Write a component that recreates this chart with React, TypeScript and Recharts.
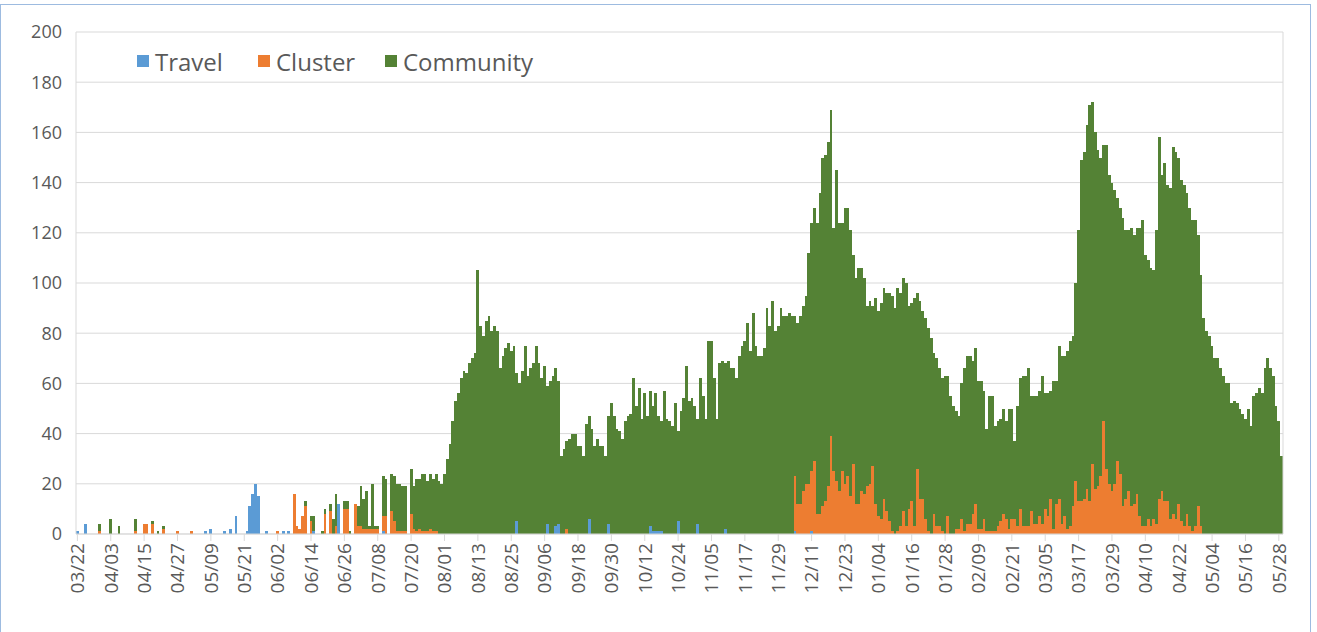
import React from "react";
import { BarChart, Bar, XAxis, YAxis, CartesianGrid } from "recharts";

// daily new cases, 2020-03-22 .. 2021-05-29
const firstDay = Date.UTC(2020, 2, 22);

const travel = [
  1, 0, 0, 4, 0, 0, 0, 0, 0, 0,
  0, 0, 0, 0, 0, 0, 0, 0, 0, 0,
  0, 0, 0, 0, 0, 0, 0, 0, 0, 0,
  0, 0, 0, 0, 0, 0, 0, 0, 0, 0,
  0, 0, 0, 0, 0, 0, 1, 0, 2, 0,
  0, 0, 0, 1, 0, 2, 0, 7, 0, 0,
  0, 1, 11, 16, 20, 15, 0, 0, 1, 0,
  0, 0, 0, 0, 1, 0, 1, 0, 0, 0,
  0, 0, 0, 0, 0, 1, 0, 0, 0, 0,
  0, 0, 0, 0, 12, 0, 0, 0, 0, 0,
  0, 0, 0, 0, 0, 0, 0, 0, 0, 0,
  1, 0, 0, 0, 0, 0, 0, 0, 0, 0,
  0, 0, 0, 0, 0, 0, 0, 0, 0, 0,
  0, 0, 0, 0, 0, 0, 0, 0, 0, 0,
  0, 0, 0, 0, 0, 0, 0, 0, 0, 0,
  0, 0, 0, 0, 0, 0, 0, 0, 5, 0,
  0, 0, 0, 0, 0, 0, 0, 0, 0, 4,
  0, 0, 3, 4, 0, 0, 0, 0, 0, 0,
  0, 0, 0, 0, 6, 0, 0, 0, 0, 0,
  0, 4, 0, 0, 0, 0, 0, 0, 0, 0,
  0, 0, 0, 0, 0, 0, 3, 1, 1, 1,
  1, 0, 0, 0, 0, 0, 5, 0, 0, 0,
  0, 0, 0, 4, 0, 0, 0, 0, 0, 0,
  0, 0, 0, 2, 0, 0, 0, 0, 0, 0,
  0, 0, 0, 0, 0, 0, 0, 0, 0, 0,
  0, 0, 0, 0, 0, 0, 0, 0, 1, 0,
  0, 0, 0, 0, 1, 0, 0, 0, 0, 0,
  0, 0, 0, 0, 0, 0, 0, 0, 0, 0,
  0, 0, 0, 0, 0, 0, 0, 0, 0, 0,
  0, 0, 0, 0, 0, 0, 0, 0, 0, 0,
  0, 0, 0, 0, 0, 0, 0, 0, 0, 0,
  0, 0, 0, 0, 0, 0, 0, 0, 0, 0,
  0, 0, 0, 0, 0, 0, 0, 0, 0, 0,
  0, 0, 0, 0, 0, 0, 0, 0, 0, 0,
  0, 0, 0, 0, 0, 0, 0, 0, 0, 0,
  0, 0, 0, 0, 0, 0, 0, 0, 0, 0,
  0, 0, 0, 0, 0, 0, 0, 0, 0, 0,
  0, 0, 0, 0, 0, 0, 0, 0, 0, 0,
  0, 0, 0, 0, 0, 0, 0, 0, 0, 0,
  0, 0, 0, 0, 0, 0, 0, 0, 0, 0,
  0, 0, 0, 0, 0, 0, 0, 0, 0, 0,
  0, 0, 0, 0, 0, 0, 0, 0, 0, 0,
  0, 0, 0, 0, 0, 0, 0, 0, 0, 0,
  0, 0, 0, 0,
];

const cluster = [
  0, 0, 0, 0, 0, 0, 0, 0, 1, 0,
  0, 0, 0, 0, 0, 0, 0, 0, 0, 0,
  0, 1, 0, 0, 4, 4, 0, 4, 0, 0,
  0, 2, 0, 0, 0, 0, 1, 0, 0, 0,
  0, 1, 0, 0, 0, 0, 0, 0, 0, 0,
  0, 0, 0, 0, 0, 0, 0, 0, 0, 0,
  0, 0, 0, 0, 0, 0, 0, 0, 0, 0,
  0, 0, 1, 0, 0, 0, 0, 0, 16, 3,
  2, 7, 11, 0, 5, 0, 0, 0, 0, 8,
  0, 9, 0, 3, 0, 0, 10, 10, 0, 0,
  12, 3, 3, 2, 2, 2, 2, 2, 2, 0,
  6, 7, 0, 9, 5, 1, 1, 1, 1, 0,
  8, 2, 1, 2, 1, 1, 1, 2, 1, 1,
  0, 0, 0, 0, 0, 0, 0, 0, 0, 0,
  0, 0, 0, 0, 0, 0, 0, 0, 0, 0,
  0, 0, 0, 0, 0, 0, 0, 0, 0, 0,
  0, 0, 0, 0, 0, 0, 0, 0, 0, 0,
  0, 0, 0, 0, 0, 0, 2, 0, 0, 0,
  0, 0, 0, 0, 0, 0, 0, 0, 0, 0,
  0, 0, 0, 0, 0, 0, 0, 0, 0, 0,
  0, 0, 0, 0, 0, 0, 0, 0, 0, 0,
  0, 0, 0, 0, 0, 0, 0, 0, 0, 0,
  0, 0, 0, 0, 0, 0, 0, 0, 0, 0,
  0, 0, 0, 0, 0, 0, 0, 0, 0, 0,
  0, 0, 0, 0, 0, 0, 0, 0, 0, 0,
  0, 0, 0, 0, 0, 0, 0, 0, 22, 12,
  12, 17, 20, 20, 24, 29, 8, 8, 11, 13,
  19, 39, 25, 21, 17, 25, 20, 23, 15, 28,
  12, 12, 17, 16, 19, 20, 27, 12, 7, 6,
  14, 9, 5, 1, 0, 1, 3, 9, 3, 10,
  13, 3, 26, 14, 14, 6, 1, 0, 8, 3,
  3, 1, 0, 7, 0, 0, 2, 2, 6, 1,
  4, 4, 8, 12, 2, 2, 6, 1, 1, 1,
  1, 3, 5, 8, 6, 2, 6, 6, 3, 10,
  3, 3, 3, 9, 4, 4, 7, 4, 10, 7,
  14, 2, 12, 14, 4, 7, 2, 3, 11, 21,
  13, 13, 14, 18, 13, 28, 18, 19, 23, 45,
  26, 20, 17, 20, 29, 24, 11, 14, 17, 11,
  12, 16, 7, 3, 3, 6, 3, 6, 4, 14,
  17, 13, 13, 6, 8, 6, 12, 5, 3, 8,
  3, 1, 3, 11, 3, 0, 0, 0, 0, 0,
  0, 0, 0, 0, 0, 0, 0, 0, 0, 0,
  0, 0, 0, 0, 0, 0, 0, 0, 0, 0,
  0, 0, 0, 0,
];

const community = [
  0, 0, 0, 0, 0, 0, 0, 0, 3, 0,
  0, 0, 6, 0, 0, 3, 0, 0, 0, 0,
  0, 5, 0, 0, 0, 0, 0, 1, 0, 1,
  0, 1, 0, 0, 0, 0, 0, 0, 0, 0,
  0, 0, 0, 0, 0, 0, 0, 0, 0, 0,
  0, 0, 0, 0, 0, 0, 0, 0, 0, 0,
  0, 0, 0, 0, 0, 0, 0, 0, 0, 0,
  0, 0, 0, 0, 0, 0, 0, 0, 0, 0,
  0, 0, 2, 0, 2, 6, 0, 0, 1, 2,
  0, 3, 6, 13, 0, 0, 3, 3, 1, 0,
  0, 8, 16, 12, 15, 1, 18, 1, 1, 0,
  16, 15, 0, 15, 18, 19, 19, 18, 18, 0,
  18, 17, 21, 20, 23, 23, 20, 22, 21, 23,
  21, 20, 24, 30, 36, 45, 53, 56, 62, 65,
  64, 68, 70, 72, 105, 83, 79, 85, 87, 81,
  83, 81, 66, 71, 74, 76, 73, 75, 59, 60,
  65, 75, 63, 66, 68, 75, 68, 62, 67, 55,
  61, 63, 63, 57, 31, 34, 35, 38, 40, 40,
  35, 35, 31, 44, 41, 42, 35, 38, 35, 35,
  31, 43, 52, 47, 42, 41, 38, 45, 47, 48,
  62, 51, 58, 46, 56, 47, 54, 50, 55, 46,
  44, 57, 46, 45, 43, 52, 36, 49, 54, 67,
  53, 54, 51, 42, 62, 55, 46, 77, 77, 62,
  46, 68, 69, 66, 69, 66, 66, 62, 71, 75,
  77, 84, 73, 88, 75, 71, 71, 74, 90, 83,
  93, 81, 83, 90, 87, 87, 88, 87, 64, 72,
  75, 74, 75, 92, 99, 101, 116, 128, 139, 138,
  137, 130, 97, 124, 107, 99, 110, 107, 106, 83,
  90, 94, 89, 86, 72, 73, 64, 82, 82, 86,
  84, 87, 91, 94, 90, 97, 93, 93, 97, 81,
  79, 91, 70, 79, 75, 80, 81, 78, 64, 67,
  63, 61, 63, 56, 55, 51, 47, 45, 54, 65,
  67, 67, 61, 62, 59, 59, 51, 41, 54, 54,
  42, 42, 41, 42, 39, 48, 44, 31, 48, 52,
  60, 60, 63, 46, 51, 51, 50, 59, 46, 49,
  43, 59, 49, 61, 67, 64, 71, 74, 68, 79,
  108, 136, 138, 145, 158, 144, 142, 134, 127, 110,
  129, 123, 123, 117, 105, 106, 115, 107, 104, 111,
  107, 106, 115, 122, 108, 103, 103, 99, 117, 144,
  126, 135, 126, 132, 146, 146, 138, 136, 136, 128,
  127, 124, 122, 108, 100, 86, 81, 79, 75, 70,
  70, 66, 63, 60, 60, 52, 53, 52, 50, 48,
  46, 50, 43, 55, 56, 58, 56, 66, 70, 66,
  63, 51, 45, 31,
];

const yTicks = [0, 20, 40, 60, 80, 100, 120, 140, 160, 180, 200];

const series = [
  { key: "travel", name: "Travel", color: "#5b9bd5" },
  { key: "cluster", name: "Cluster", color: "#ed7d31" },
  { key: "community", name: "Community", color: "#548235" },
];

const pad = (n: number) => (n < 10 ? "0" + n : "" + n);
const dates = community.map((_, i) => {
  const d = new Date(firstDay + i * 86400000);
  return pad(d.getUTCMonth() + 1) + "/" + pad(d.getUTCDate());
});

const data = dates.map((date, i) => ({
  date,
  travel: travel[i],
  cluster: cluster[i],
  community: community[i],
}));

const font = "'Open Sans', 'Noto Sans', sans-serif";
const grey = "#595959";

function DateTick(props: any) {
  const { x, y, payload } = props;
  return (
    <text
      x={x}
      y={y}
      transform={`rotate(-90 ${x} ${y})`}
      textAnchor="end"
      dy="0.36em"
      fill={grey}
      fontSize={19}
      fontFamily={font}
    >
      {payload.value}
    </text>
  );
}

export default function App() {
  const legendLeft = [137, 258, 385];
  return (
    <div
      style={{
        position: "absolute",
        left: 0,
        top: 0,
        width: 1317,
        height: 632,
        background: "#fff",
        overflow: "hidden",
      }}
    >
      <style>{`.recharts-bar-rectangle path { shape-rendering: crispEdges; }`}</style>
      <div
        style={{
          position: "absolute",
          left: 0,
          top: 4,
          width: 1309,
          height: 660,
          border: "1px solid #9dbbe0",
        }}
      />
      <div style={{ position: "absolute", left: 0, top: 0 }}>
        <BarChart
          width={1317}
          height={632}
          data={data}
          barCategoryGap={0}
          margin={{ top: 32, right: 33, bottom: 8, left: 16 }}
        >
          <CartesianGrid vertical={false} stroke="#d9d9d9" />
          <XAxis
            dataKey="date"
            interval={11}
            height={90}
            tickSize={7}
            tickMargin={2}
            axisLine={{ stroke: "#d9d9d9" }}
            tickLine={{ stroke: "#d9d9d9" }}
            tick={<DateTick />}
          />
          <YAxis
            width={60}
            domain={[0, 200]}
            ticks={yTicks}
            tickSize={0}
            tickMargin={14}
            axisLine={{ stroke: "#d9d9d9" }}
            tickLine={false}
            tick={{ fill: grey, fontSize: 18, fontFamily: font }}
          />
          <YAxis
            yAxisId="right"
            orientation="right"
            width={1}
            tick={false}
            tickLine={false}
            axisLine={{ stroke: "#d9d9d9" }}
          />
          {series.map((s) => (
            <Bar
              key={s.key}
              dataKey={s.key}
              name={s.name}
              stackId="cases"
              fill={s.color}
              barSize={2.7811}
              isAnimationActive={false}
            />
          ))}
        </BarChart>
      </div>
      {series.map((s, i) => (
        <div
          key={s.key}
          style={{
            position: "absolute",
            left: legendLeft[i],
            top: 46,
            height: 30,
            display: "flex",
            alignItems: "center",
            fontFamily: font,
            fontSize: 24,
            color: grey,
            whiteSpace: "nowrap",
          }}
        >
          <span
            style={{
              display: "inline-block",
              width: 12,
              height: 12,
              background: s.color,
              marginRight: 6,
            }}
          />
          {s.name}
        </div>
      ))}
    </div>
  );
}
